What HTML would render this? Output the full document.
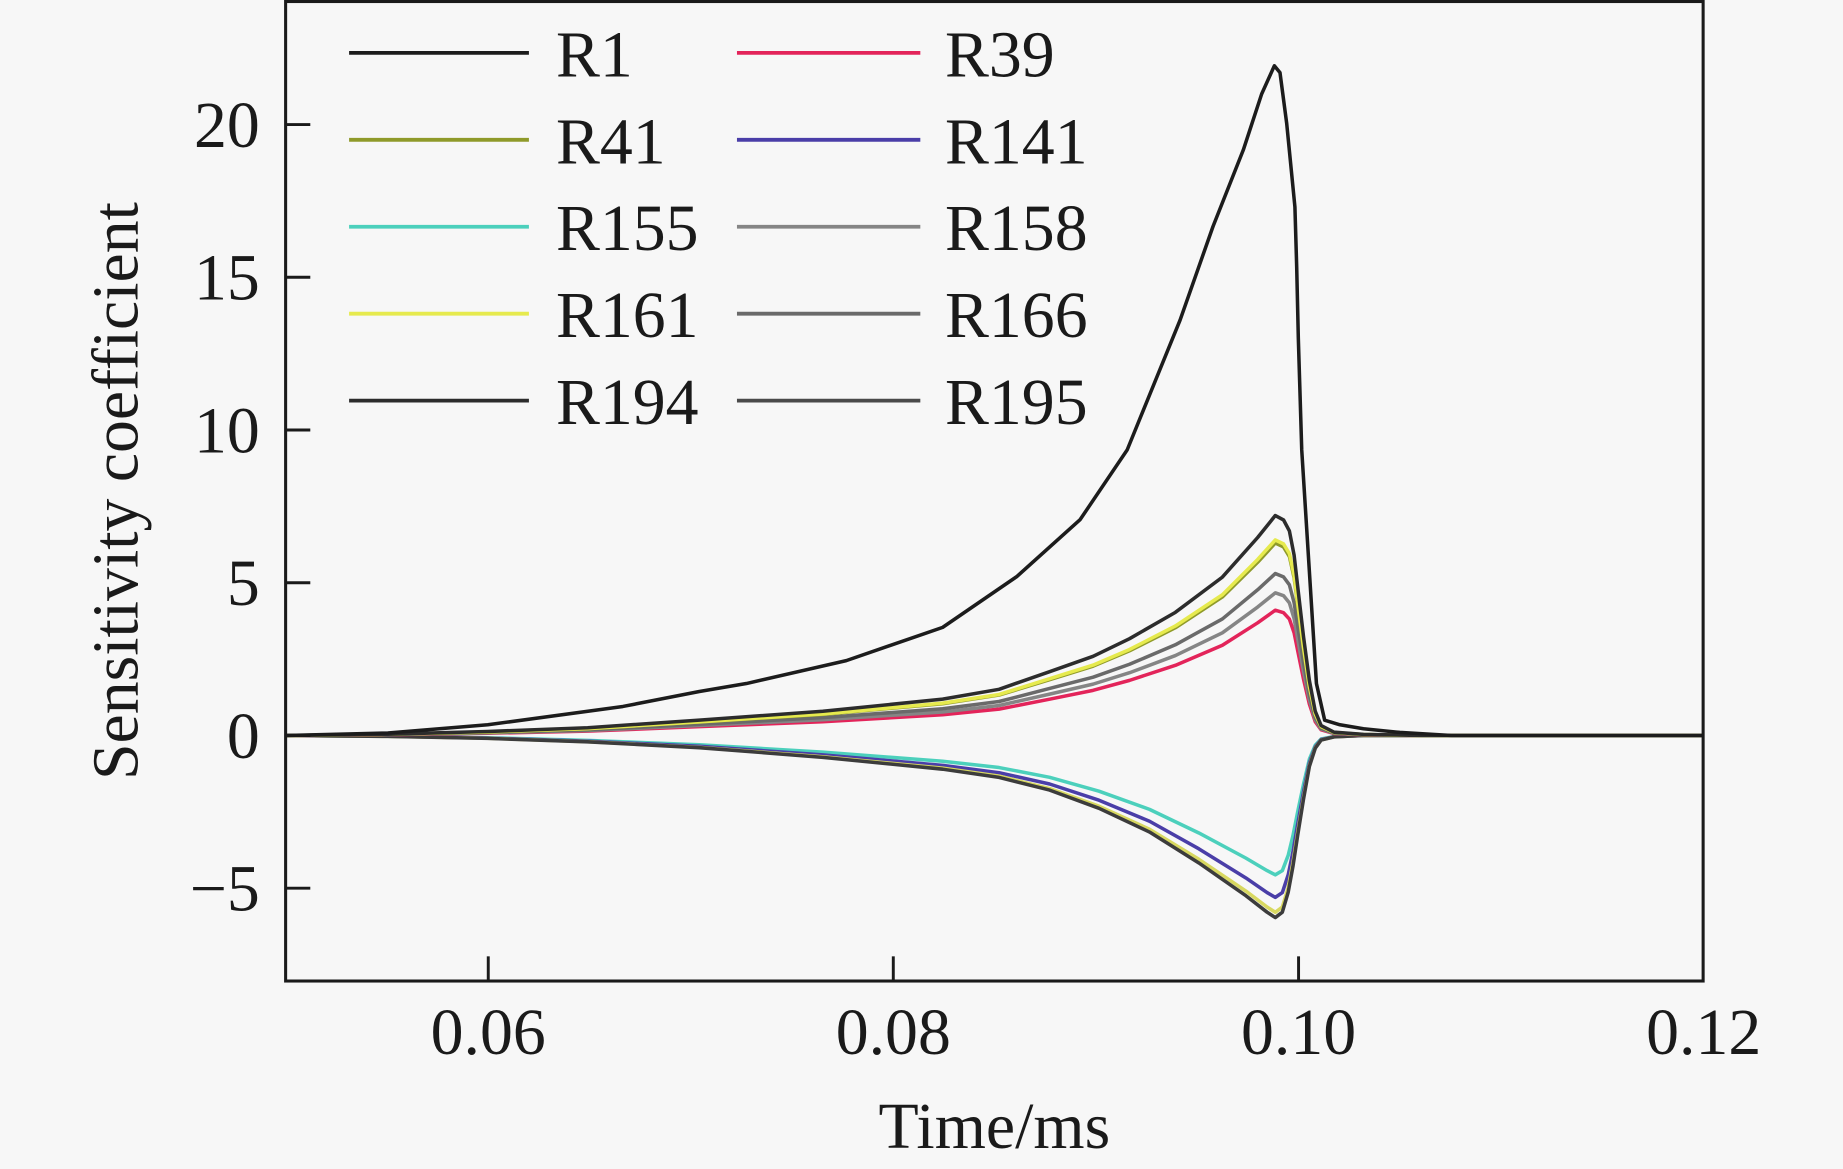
<!DOCTYPE html>
<html><head><meta charset="utf-8"><style>
html,body{margin:0;padding:0;background:#f7f7f7;}
svg{display:block;}
text{font-family:"Liberation Serif",serif;fill:#1a1a1a;}
</style></head><body>
<svg width="1843" height="1169" viewBox="0 0 1568 995" preserveAspectRatio="none" xmlns="http://www.w3.org/2000/svg">
<rect x="0" y="0" width="1568" height="995" fill="#f7f7f7"/>
<defs>
<clipPath id="pa"><rect x="243" y="1" width="1206" height="834"/></clipPath>
</defs>

<g clip-path="url(#pa)" fill="none" stroke-linejoin="round" stroke-linecap="round" stroke-width="3">
  <!-- R155 -->
  <polyline stroke="#4cd0bc" points="243,626 330,626.6 415,627.9 500,630.2 595,633.9 700,640.2 802,647.9 850,653.3 893,661.6 935,673.4 978,688.9 1020,709 1060,730.4 1078,741 1085,744.6 1091,741 1096,728 1100,711.4 1104,691.2 1109,667.5 1114,646.2 1119,634.3 1124,629 1135,626.9 1160,626 1449,626"/>
  <!-- R141 -->
  <polyline stroke="#4a3ea8" points="243,626 330,626.7 415,628.2 500,630.8 595,635.2 700,642.5 802,651.5 850,657.7 893,667.3 935,681.1 978,699 1020,722.5 1060,747.3 1078,759.7 1085,763.8 1091,759.7 1096,744.5 1100,725.2 1104,701.8 1109,674.2 1114,649.4 1119,635.6 1124,629.4 1135,627.1 1160,626 1449,626"/>
  <!-- yellowish negative -->
  <polyline stroke="#d8d860" points="243,626 330,626.8 415,628.4 500,631.3 595,636.1 700,644.1 802,653.8 850,660.6 893,671.2 935,686.2 978,705.8 1020,731.4 1060,758.4 1078,772 1085,776.5 1091,772 1096,755.4 1100,734.4 1104,708.8 1109,678.7 1114,651.6 1119,636.5 1124,629.8 1135,627.2 1160,626 1449,626"/>
  <!-- R195 -->
  <polyline stroke="#3c3c3c" points="243,626 330,626.8 415,628.5 500,631.4 595,636.4 700,644.6 802,654.7 850,661.7 893,672.5 935,688 978,708.2 1020,734.5 1060,762.4 1078,776.4 1085,781 1091,776.4 1096,759.3 1100,737.6 1104,711.3 1109,680.3 1114,652.4 1119,636.9 1124,629.9 1135,627.2 1160,626 1449,626"/>

  <!-- R39 -->
  <polyline stroke="#e3245a" points="243,626 330,625.4 415,624.1 500,622.3 595,618.5 700,614.3 802,608.4 850,603.6 893,595.1 930,587.6 961,579.1 1000,566.3 1040,549.2 1070,530.1 1085,519.4 1092,521.5 1097,526.9 1101,538.6 1104,553.5 1109,578 1114,599.3 1119,614.3 1124,621.2 1135,624.4 1160,625.5 1210,626 1449,626"/>
  <!-- R158 -->
  <polyline stroke="#858585" points="243,626 330,625.3 415,623.8 500,621.8 595,617.5 700,612.6 802,606 850,600.5 893,590.8 930,582.3 961,572.6 1000,558 1040,538.6 1070,516.7 1085,504.6 1092,507 1097,513.1 1101,526.5 1104,543.4 1109,571.4 1114,595.6 1119,612.6 1124,620.5 1135,624.2 1160,625.4 1210,626 1449,626"/>
  <!-- R166 -->
  <polyline stroke="#6a6a6a" points="243,626 330,625.2 415,623.5 500,621.2 595,616.4 700,610.8 802,603.3 850,597.1 893,586 930,576.4 961,565.4 1000,548.8 1040,526.8 1070,502 1085,488.2 1092,491 1097,497.8 1101,513 1104,532.3 1109,564 1114,591.5 1119,610.8 1124,619.8 1135,623.9 1160,625.3 1210,626 1449,626"/>
  <!-- R41 -->
  <polyline stroke="#8f9a2a" points="243,626 330,625 415,623.1 500,620.3 595,614.5 700,608 802,599 850,591.6 893,578.5 930,567 961,553.9 1000,534.3 1040,508.1 1070,478.6 1085,462.2 1092,465.5 1097,473.7 1101,491.7 1104,514.6 1109,552.3 1114,585 1119,608 1124,618.6 1135,623.5 1160,625.2 1210,626 1449,626"/>
  <!-- R161 -->
  <polyline stroke="#e6ea4e" points="243,626 330,625 415,623 500,620.2 595,614.4 700,607.7 802,598.5 850,591.1 893,577.7 930,566.1 961,552.8 1000,532.8 1040,506.2 1070,476.2 1085,459.6 1092,462.9 1097,471.2 1101,489.6 1104,512.8 1109,551.1 1114,584.4 1119,607.7 1124,618.5 1135,623.5 1160,625.2 1210,626 1449,626"/>
  <!-- R194 -->
  <polyline stroke="#2c2c2c" points="243,626 330,624.9 415,622.6 500,619.4 595,612.9 700,605.4 802,595.1 850,586.7 893,571.7 930,558.6 961,543.6 1000,521.2 1040,491.2 1070,457.5 1085,438.8 1092,442.5 1097,451.9 1101,472.5 1104,498.7 1109,541.8 1114,579.2 1119,605.4 1124,617.6 1135,623.2 1160,625.1 1210,626 1449,626"/>
  <!-- R1 -->
  <polyline stroke="#1c1c1c" points="243,626 330,623.9 415,616.9 530,601.3 595,588.6 635,581.8 720,562.3 802,534 865,490.8 919,442.2 959,382.9 1004,272.4 1032,192.8 1057.8,127.6 1073.4,80 1084.2,56 1089,61.8 1094.7,105 1101.7,176.2 1103.2,226.9 1104.6,288 1107.5,383 1120,581.8 1127,613 1140,616.9 1160,620.3 1191,623.4 1235,626 1449,626"/>
</g>

<!-- axes box -->
<rect x="243" y="1.3" width="1206" height="833.7" fill="none" stroke="#1a1a1a" stroke-width="2.6"/>
<!-- ticks -->
<g stroke="#1a1a1a" stroke-width="2.5">
  <line x1="243" y1="106" x2="264" y2="106"/>
  <line x1="243" y1="236" x2="264" y2="236"/>
  <line x1="243" y1="366" x2="264" y2="366"/>
  <line x1="243" y1="496" x2="264" y2="496"/>
  <line x1="243" y1="626" x2="264" y2="626"/>
  <line x1="243" y1="756" x2="264" y2="756"/>
  <line x1="415.4" y1="835" x2="415.4" y2="814"/>
  <line x1="760" y1="835" x2="760" y2="814"/>
  <line x1="1104.8" y1="835" x2="1104.8" y2="814"/>
</g>

<!-- y tick labels -->
<g font-size="56" text-anchor="end">
  <text x="221" y="125">20</text>
  <text x="221" y="255">15</text>
  <text x="221" y="385">10</text>
  <text x="221" y="515">5</text>
  <text x="221" y="645">0</text>
  <text x="221" y="775">−5</text>
</g>
<!-- x tick labels -->
<g font-size="56" text-anchor="middle">
  <text x="415.4" y="897">0.06</text>
  <text x="760" y="897">0.08</text>
  <text x="1104.8" y="897">0.10</text>
  <text x="1449.5" y="897">0.12</text>
</g>
<!-- axis titles -->
<text x="846" y="977" font-size="56" text-anchor="middle">Time/ms</text>
<text transform="translate(117,418) rotate(-90)" font-size="56" text-anchor="middle">Sensitivity coefficient</text>

<!-- legend -->
<g stroke-width="3.2">
  <line x1="297" y1="45" x2="450" y2="45" stroke="#1c1c1c"/>
  <line x1="297" y1="119" x2="450" y2="119" stroke="#8f9a2a"/>
  <line x1="297" y1="193" x2="450" y2="193" stroke="#4cd0bc"/>
  <line x1="297" y1="267" x2="450" y2="267" stroke="#e6ea4e"/>
  <line x1="297" y1="341" x2="450" y2="341" stroke="#2c2c2c"/>
  <line x1="627" y1="45" x2="783" y2="45" stroke="#e3245a"/>
  <line x1="627" y1="119" x2="783" y2="119" stroke="#4a3ea8"/>
  <line x1="627" y1="193" x2="783" y2="193" stroke="#858585"/>
  <line x1="627" y1="267" x2="783" y2="267" stroke="#6a6a6a"/>
  <line x1="627" y1="341" x2="783" y2="341" stroke="#4a4a4a"/>
</g>
<g font-size="56">
  <text x="473" y="65">R1</text>
  <text x="473" y="139">R41</text>
  <text x="473" y="213">R155</text>
  <text x="473" y="287">R161</text>
  <text x="473" y="361">R194</text>
  <text x="804" y="65">R39</text>
  <text x="804" y="139">R141</text>
  <text x="804" y="213">R158</text>
  <text x="804" y="287">R166</text>
  <text x="804" y="361">R195</text>
</g>
</svg>
</body></html>
